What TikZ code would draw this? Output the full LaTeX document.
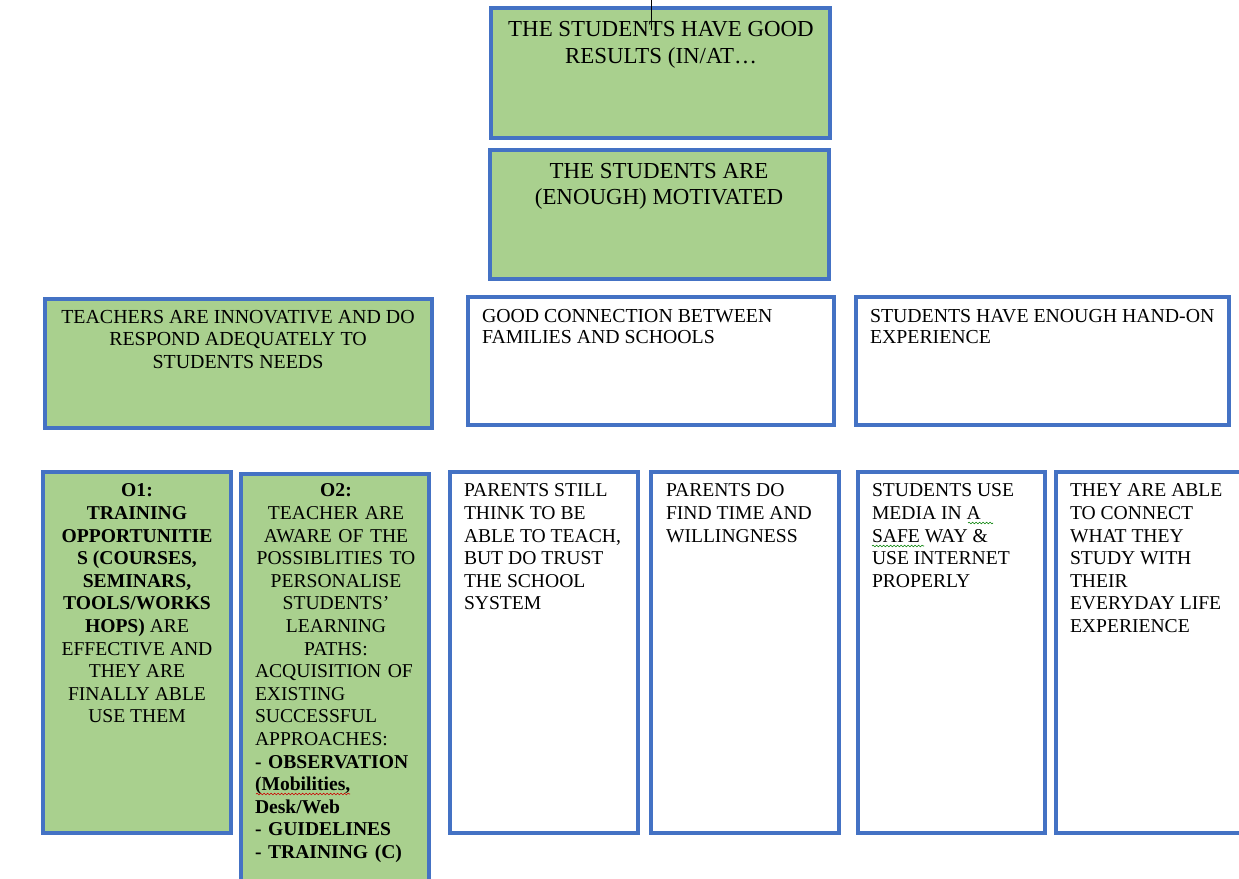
\documentclass[tikz,border=0pt]{standalone}
\usepackage{fontspec}
\setmainfont{Liberation Serif}
\usetikzlibrary{decorations.pathmorphing}
\definecolor{boxgreen}{RGB}{169,208,142}
\definecolor{boxblue}{RGB}{68,114,196}
\tikzset{
  frame/.style={draw=boxblue, line width=3.5pt, anchor=north west, inner sep=0pt, outer sep=0pt},
  goalbox/.style={frame, fill=boxgreen},
  openbox/.style={frame, fill=white},
  boxtext/.style={inner sep=0pt, outer sep=0pt, font=\fontsize{19.6}{22.6}\selectfont},
  squiggle/.style={decorate, decoration={snake, amplitude=0.8pt, segment length=3.5pt}, line width=0.6pt},
}
\begin{document}
\begin{tikzpicture}[x=1pt, y=-1pt]
\useasboundingbox (0,0) rectangle (1239,878);
\clip (0,0) rectangle (1239,878);

% top of the tree
\node[goalbox, minimum width=339, minimum height=130] (res) at (491,8) {};
\node[goalbox, minimum width=339, minimum height=129] (mot) at (490,150) {};
\node[boxtext, font=\fontsize{22.9}{27}\selectfont, align=center, anchor=north] (resT) at (661,21)
  {THE STUDENTS HAVE GOOD\\RESULTS (IN/AT…};
\node[boxtext, font=\fontsize{22.9}{26}\selectfont, align=center, anchor=north] (motT) at (659,163)
  {THE STUDENTS ARE\\(ENOUGH) MOTIVATED};
\draw[line width=0.8pt] (651,0) -- (651,30);

% second level
\node[goalbox, minimum width=387, minimum height=129] (teach) at (45,299) {};
\node[openbox, minimum width=366, minimum height=128] (fam) at (468,297) {};
\node[openbox, minimum width=373, minimum height=128] (hand) at (856,297) {};
\node[boxtext, font=\fontsize{19.9}{22.5}\selectfont, align=center, anchor=north] (teachT) at (238,310)
  {TEACHERS ARE INNOVATIVE AND DO\\RESPOND ADEQUATELY TO\\STUDENTS NEEDS};
\node[boxtext, font=\fontsize{19.8}{21}\selectfont, align=left, anchor=north west] (famT) at (482,309)
  {GOOD CONNECTION BETWEEN\\FAMILIES AND SCHOOLS};
\node[boxtext, font=\fontsize{19.8}{21}\selectfont, align=left, anchor=north west] (handT) at (870,309)
  {STUDENTS HAVE ENOUGH HAND-ON\\EXPERIENCE};

% third level
\node[goalbox, minimum width=188, minimum height=361] (oone) at (43,472) {};
\node[goalbox, minimum width=188, minimum height=420] (otwo) at (241,474) {};
\node[openbox, minimum width=188, minimum height=361] (parA) at (450,472) {};
\node[openbox, minimum width=188, minimum height=361] (parB) at (651,472) {};
\node[openbox, minimum width=187, minimum height=361] (media) at (858,472) {};
\node[openbox, minimum width=200, minimum height=361] (link) at (1056,472) {};

\node[boxtext, align=center, anchor=north] (ooneT) at (137,484)
  {\textbf{O1:}\\\textbf{TRAINING}\\\textbf{OPPORTUNITIE}\\\textbf{S (COURSES,}\\\textbf{SEMINARS,}\\\textbf{TOOLS/WORKS}\\\textbf{HOPS)} ARE\\EFFECTIVE AND\\THEY ARE\\FINALLY ABLE\\USE THEM};
\node[boxtext, text width=162, anchor=north] (otwoT) at (336,484)
  {\centering\textbf{O2:}\\TEACHER ARE\\AWARE OF THE\\POSSIBLITIES TO\\PERSONALISE\\STUDENTS’\\LEARNING\\PATHS:\par
   \raggedright ACQUISITION OF\\EXISTING\\SUCCESSFUL\\APPROACHES:\\\textbf{- OBSERVATION}\\\textbf{(Mobilities,}\\\textbf{Desk/Web}\\\textbf{- GUIDELINES}\\\textbf{- TRAINING (C)}\par};
\node[boxtext, align=left, anchor=north west] (parAT) at (464,484)
  {PARENTS STILL\\THINK TO BE\\ABLE TO TEACH,\\BUT DO TRUST\\THE SCHOOL\\SYSTEM};
\node[boxtext, align=left, anchor=north west] (parBT) at (666,484)
  {PARENTS DO\\FIND TIME AND\\WILLINGNESS};
\node[boxtext, align=left, anchor=north west] (mediaT) at (872,484)
  {STUDENTS USE\\MEDIA IN A\\SAFE WAY \&\\USE INTERNET\\PROPERLY};
\node[boxtext, align=left, anchor=north west] (linkT) at (1070,484)
  {THEY ARE ABLE\\TO CONNECT\\WHAT THEY\\STUDY WITH\\THEIR\\EVERYDAY LIFE\\EXPERIENCE};

% spelling marks
\draw[squiggle, red!80!black] (256,794) -- (350,794);
\draw[squiggle, green!50!black] (968,523) -- (993,523);
\draw[squiggle, green!50!black] (872,546) -- (924,546);
\end{tikzpicture}
\end{document}
